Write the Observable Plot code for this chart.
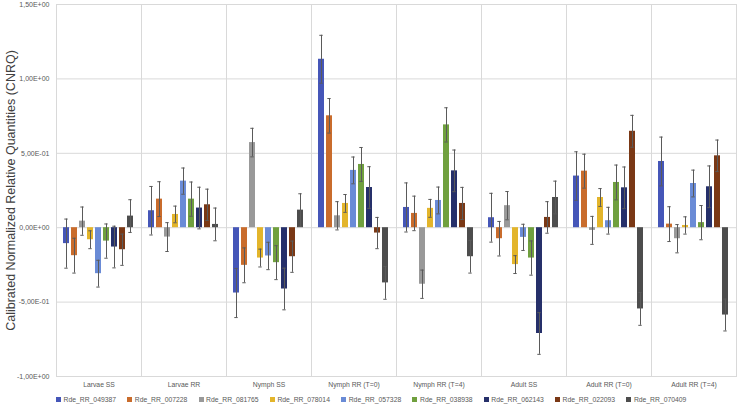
<!DOCTYPE html>
<html>
<head>
<meta charset="utf-8">
<script src="https://cdn.jsdelivr.net/npm/d3@7"></script>
<script src="https://cdn.jsdelivr.net/npm/@observablehq/plot@0.6"></script>
<style>
  html, body { margin: 0; padding: 0; background: #fff; }
  body { width: 740px; height: 407px; overflow: hidden; font-family: "Liberation Sans", Arial, sans-serif; }
  #legend { display: flex; height: 15px; align-items: center; padding-left: 56px; font-size: 6.8px; color: #595959; }
  #legend .item { width: 71.3px; display: flex; align-items: center; white-space: nowrap; }
  #legend .sw { width: 5px; height: 5px; margin-right: 2.5px; flex: none; }
</style>
</head>
<body>
<div id="chart"></div>
<div id="legend"></div>
<script>
const groups = ["Larvae SS", "Larvae RR", "Nymph SS", "Nymph RR (T=0)", "Nymph RR (T=4)", "Adult SS", "Adult RR (T=0)", "Adult RR (T=4)"];
const series = ["Rde_RR_049387", "Rde_RR_007228", "Rde_RR_081765", "Rde_RR_078014", "Rde_RR_057328", "Rde_RR_038938", "Rde_RR_062143", "Rde_RR_022093", "Rde_RR_070409"];
const colors = ["#4556B8", "#C96C2C", "#999999", "#E3B52B", "#6A8BD6", "#70A03E", "#26306A", "#7A3815", "#4D4D4D"];

const v049387 = [-0.107, 0.114, -0.439, 1.132, 0.136, 0.067, 0.347, 0.445];
const v007228 = [-0.188, 0.192, -0.253, 0.752, 0.096, -0.074, 0.380, 0.024];
const v081765 = [0.044, -0.063, 0.572, 0.080, -0.380, 0.148, -0.018, -0.074];
const v078014 = [-0.081, 0.089, -0.204, 0.163, 0.130, -0.248, 0.203, 0.015];
const v057328 = [-0.309, 0.313, -0.190, 0.385, 0.183, -0.065, 0.047, 0.297];
const v038938 = [-0.090, 0.192, -0.235, 0.425, 0.691, -0.204, 0.304, 0.034];
const v062143 = [-0.130, 0.132, -0.412, 0.270, 0.382, -0.711, 0.268, 0.275];
const v022093 = [-0.148, 0.154, -0.195, -0.036, 0.163, 0.069, 0.648, 0.483];
const v070409 = [0.078, 0.022, 0.118, -0.371, -0.195, 0.203, -0.546, -0.587];

const e049387 = [0.165, 0.163, 0.165, 0.161, 0.165, 0.164, 0.163, 0.164];
const e007228 = [0.117, 0.117, 0.117, 0.116, 0.116, 0.116, 0.114, 0.117];
const e081765 = [0.095, 0.097, 0.096, 0.095, 0.095, 0.095, 0.094, 0.095];
const e078014 = [0.060, 0.056, 0.060, 0.060, 0.060, 0.060, 0.060, 0.058];
const e057328 = [0.090, 0.088, 0.092, 0.090, 0.090, 0.088, 0.090, 0.090];
const e038938 = [0.115, 0.115, 0.114, 0.114, 0.115, 0.115, 0.117, 0.115];
const e062143 = [0.140, 0.140, 0.140, 0.140, 0.140, 0.140, 0.140, 0.140];
const e022093 = [0.105, 0.105, 0.105, 0.105, 0.108, 0.106, 0.107, 0.106];
const e070409 = [0.110, 0.110, 0.110, 0.110, 0.110, 0.110, 0.110, 0.107];

const yTicks = [-1, -0.5, 0, 0.5, 1, 1.5];
const yLabel = "Calibrated Normalized Relative Quantities (CNRQ)";

const values = [v049387, v007228, v081765, v078014, v057328, v038938, v062143, v022093, v070409];
const errors = [e049387, e007228, e081765, e078014, e057328, e038938, e062143, e022093, e070409];

const data = [];
series.forEach((s, i) => groups.forEach((g, j) => {
  data.push({group: g, series: s, value: values[i][j], err: errors[i][j]});
}));

const fmt = d => d.toExponential(2).replace(".", ",").replace(/e([+-])(\d)$/, "E$10$2");

const chart = Plot.plot({
  width: 740,
  height: 392,
  marginLeft: 54,
  marginRight: 2,
  marginTop: 4,
  marginBottom: 16,
  style: {fontFamily: "Liberation Sans, Arial, sans-serif", background: "#fff", overflow: "visible"},
  fx: {domain: groups, padding: 0, label: null},
  x: {domain: series, paddingInner: 0.2, paddingOuter: 0.85, axis: null},
  y: {domain: [-1, 1.5], axis: null},
  color: {domain: series, range: colors},
  marks: [
    Plot.gridY(yTicks, {stroke: "#d9d9d9", strokeOpacity: 1, strokeWidth: 1}),
    Plot.frame({stroke: "#d9d9d9", strokeWidth: 1}),
    Plot.barY(data, {fx: "group", x: "series", y: "value", fill: "series"}),
    Plot.ruleX(data, {fx: "group", x: "series", y1: d => d.value - d.err, y2: d => d.value + d.err, stroke: "#5a5a5a", strokeWidth: 1}),
    Plot.tickY(data, {fx: "group", x: "series", y: d => d.value + d.err, stroke: "#5a5a5a", strokeWidth: 1, insetLeft: 1.3, insetRight: 1.3}),
    Plot.tickY(data, {fx: "group", x: "series", y: d => d.value - d.err, stroke: "#5a5a5a", strokeWidth: 1, insetLeft: 1.3, insetRight: 1.3}),
    Plot.axisY(yTicks, {tickSize: 0, tickPadding: 7, tickFormat: fmt, fontSize: 7, fill: "#595959", label: null}),
    Plot.axisFx({anchor: "bottom", tickSize: 0, tickPadding: 6, fontSize: 6.8, fill: "#595959", label: null}),
    Plot.text([yLabel], {fx: () => groups[0], frameAnchor: "left", textAnchor: "middle", dx: -46, rotate: -90, fontSize: 12.5, fill: "#404040", text: d => d})
  ]
});
document.getElementById("chart").appendChild(chart);

const legend = document.getElementById("legend");
series.forEach((s, i) => {
  const item = document.createElement("div");
  item.className = "item";
  const sw = document.createElement("span");
  sw.className = "sw";
  sw.style.background = colors[i];
  const t = document.createElement("span");
  t.textContent = s;
  item.appendChild(sw);
  item.appendChild(t);
  legend.appendChild(item);
});
</script>
</body>
</html>
